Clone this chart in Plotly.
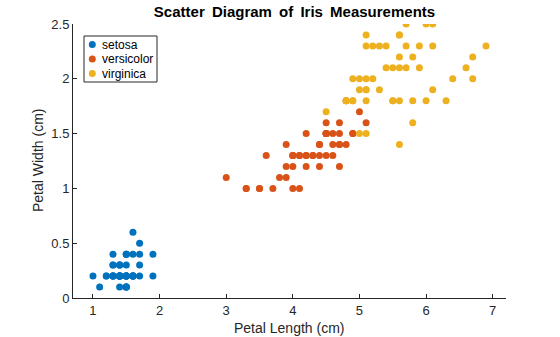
import plotly.graph_objects as go

setosa_len = [1.4,1.4,1.3,1.5,1.4,1.7,1.4,1.5,1.4,1.5,1.5,1.6,1.4,1.1,1.2,1.5,1.3,1.4,1.7,1.5,
              1.7,1.5,1.0,1.7,1.9,1.6,1.6,1.5,1.4,1.6,1.6,1.5,1.5,1.4,1.5,1.2,1.3,1.5,1.3,1.5,
              1.3,1.3,1.3,1.6,1.9,1.4,1.6,1.4,1.5,1.4]
setosa_wid = [0.2,0.2,0.2,0.2,0.2,0.4,0.3,0.2,0.2,0.1,0.2,0.2,0.1,0.1,0.2,0.4,0.4,0.3,0.3,0.3,
              0.2,0.4,0.2,0.5,0.2,0.2,0.4,0.2,0.2,0.2,0.2,0.4,0.1,0.2,0.1,0.2,0.2,0.1,0.2,0.2,
              0.3,0.3,0.2,0.6,0.4,0.3,0.2,0.2,0.2,0.2]
versicolor_len = [4.7,4.5,4.9,4.0,4.6,4.5,4.7,3.3,4.6,3.9,3.5,4.2,4.0,4.7,3.6,4.4,4.5,4.1,4.5,3.9,
                  4.8,4.0,4.9,4.7,4.3,4.4,4.8,5.0,4.5,3.5,3.8,3.7,3.9,5.1,4.5,4.5,4.7,4.4,4.1,4.0,
                  4.4,4.6,4.0,3.3,4.2,4.2,4.2,4.3,3.0,4.1]
versicolor_wid = [1.4,1.5,1.5,1.3,1.5,1.3,1.6,1.0,1.3,1.4,1.0,1.5,1.0,1.4,1.3,1.4,1.5,1.0,1.5,1.1,
                  1.8,1.3,1.5,1.2,1.3,1.4,1.4,1.7,1.5,1.0,1.1,1.0,1.2,1.6,1.5,1.6,1.5,1.3,1.3,1.3,
                  1.2,1.4,1.2,1.0,1.3,1.2,1.3,1.3,1.1,1.3]
virginica_len = [6.0,5.1,5.9,5.6,5.8,6.6,4.5,6.3,5.8,6.1,5.1,5.3,5.5,5.0,5.1,5.3,5.5,6.7,6.9,5.0,
                 5.7,4.9,6.7,4.9,5.7,6.0,4.8,4.9,5.6,5.8,6.1,6.4,5.6,5.1,5.6,6.1,5.6,5.5,4.8,5.4,
                 5.6,5.1,5.1,5.9,5.7,5.2,5.0,5.2,5.4,5.1]
virginica_wid = [2.5,1.9,2.1,1.8,2.2,2.1,1.7,1.8,1.8,2.5,2.0,1.9,2.1,2.0,2.4,2.3,1.8,2.2,2.3,1.5,
                 2.3,2.0,2.0,1.8,2.1,1.8,1.8,1.8,2.1,1.6,1.9,2.0,2.2,1.5,1.4,2.3,2.4,1.8,1.8,2.1,
                 2.4,2.3,1.9,2.3,2.5,2.3,1.9,2.0,2.3,1.8]

species = ["setosa", "versicolor", "virginica"]
colors = ["#0072BD", "#D95319", "#EDB120"]
lengths = [setosa_len, versicolor_len, virginica_len]
widths = [setosa_wid, versicolor_wid, virginica_wid]

x_ticks = [1, 2, 3, 4, 5, 6, 7]
y_ticks = [0, 0.5, 1, 1.5, 2, 2.5]
y_tick_text = ["0", "0.5", "1", "1.5", "2", "2.5"]

W, H = 560, 337
L, R, T, B = 73, 54, 24, 39
PW, PH = W - L - R, H - T - B

def px_x(px):
    return (px - L) / PW

def px_y(py):
    return (H - B - py) / PH

fig = go.Figure()
for name, xs, ys, col in zip(species, lengths, widths, colors):
    fig.add_trace(go.Scatter(x=xs, y=ys, mode="markers", name=name, showlegend=False,
                             marker=dict(color=col, size=7, line=dict(width=0))))

font_family = "Liberation Sans, Arial, Helvetica, sans-serif"

# custom compact legend (MATLAB style)
shapes = [dict(type="rect", xref="paper", yref="paper",
               x0=px_x(84), x1=px_x(157), y0=px_y(82), y1=px_y(36),
               line=dict(color="#262626", width=1), fillcolor="white", layer="above")]
annotations = []
row_y = [44.5, 59, 73.5]
for name, col, ry in zip(species, colors, row_y):
    shapes.append(dict(type="circle", xref="paper", yref="paper",
                       xsizemode="pixel", ysizemode="pixel",
                       xanchor=px_x(92.3), yanchor=px_y(ry),
                       x0=-3.5, x1=3.5, y0=-3.5, y1=3.5,
                       fillcolor=col, line=dict(width=0), layer="above"))
    annotations.append(dict(text=name, xref="paper", yref="paper",
                            x=px_x(100), y=px_y(ry), xanchor="left", yanchor="middle",
                            showarrow=False, font=dict(size=12, color="#000000")))

# axis titles as annotations for exact placement
annotations.append(dict(text="Petal Length (cm)", xref="paper", yref="paper",
                        x=px_x(289.5), y=px_y(328), xanchor="center", yanchor="middle",
                        showarrow=False, font=dict(size=14, color="#262626")))
annotations.append(dict(text="Petal Width (cm)", xref="paper", yref="paper",
                        x=px_x(38), y=px_y(161), xanchor="center", yanchor="middle",
                        textangle=-90, showarrow=False, font=dict(size=14, color="#262626")))

title_text = "<b>" + " \u2009".join("Scatter Diagram of Iris Measurements".split(" ")) + "</b>"

fig.update_layout(
    width=W, height=H,
    margin=dict(l=L, r=R, t=T, b=B, autoexpand=False),
    paper_bgcolor="white", plot_bgcolor="white",
    font=dict(family=font_family, size=13, color="#262626"),
    title=dict(text=title_text, x=294.5 / W, xanchor="center", xref="container",
               y=1 - 12 / H, yanchor="middle", yref="container",
               font=dict(size=15, color="#000000")),
    showlegend=False,
    shapes=shapes,
    annotations=annotations,
)
fig.update_xaxes(range=[0.7, 7.2], tickvals=x_ticks, ticks="inside", ticklen=4,
                 tickcolor="#262626", showline=True, linecolor="#262626", linewidth=1,
                 showgrid=False, zeroline=False, mirror=False, automargin=False,
                 tickfont=dict(size=13, color="#262626"))
fig.update_yaxes(range=[0, 2.5], tickvals=y_ticks, ticktext=y_tick_text,
                 ticks="inside", ticklen=4,
                 tickcolor="#262626", showline=True, linecolor="#262626", linewidth=1,
                 showgrid=False, zeroline=False, mirror=False, automargin=False,
                 tickfont=dict(size=13, color="#262626"))

fig.write_html("out.html")
